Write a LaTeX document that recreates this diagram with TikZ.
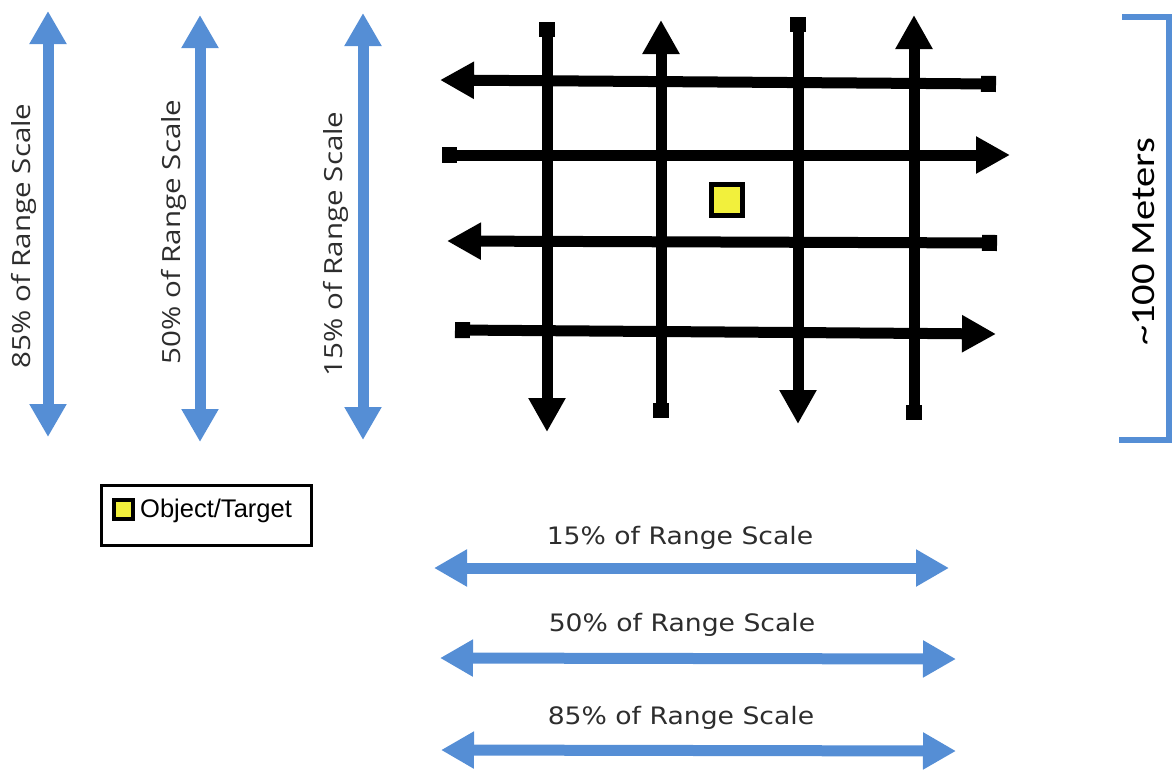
\documentclass[tikz,border=0pt]{standalone}
\usepackage{fontspec}
\setmainfont{DejaVu Sans}
\newfontfamily\vfont{Open Sans}
\newfontfamily\mfont{Carlito}
\newfontfamily\lfont{Liberation Sans}
\usetikzlibrary{arrows.meta}
\definecolor{rblue}{RGB}{85,142,213}
\definecolor{tyellow}{RGB}{242,240,60}
\definecolor{tgray}{RGB}{45,45,45}
\begin{document}
\begin{tikzpicture}[x=1pt,y=-1pt,
  bluearrow/.style={draw=rblue, line width=11pt,
    {Triangle[length=33pt,width=35pt]}-{Triangle[length=33pt,width=35pt]}},
  gline/.style={draw=black, line width=11pt},
  sqtri/.style={gline, {Square[length=15pt,width=16pt]}-{Triangle[length=34pt,width=35pt]}},
  vlabel/.style={text=tgray, font=\vfont\fontsize{25}{29}\selectfont, rotate=90, inner sep=0pt},
  hlabel/.style={text=tgray, font=\fontsize{24}{28}\selectfont, inner sep=0pt},
  target/.style={draw=black, fill=tyellow, inner sep=0pt}
]
\useasboundingbox (0,0) rectangle (1176,777);

% vertical blue range arrows
\coordinate (v1a) at (48,11);  \coordinate (v1b) at (48,437);
\coordinate (v2a) at (200,15); \coordinate (v2b) at (200,442);
\coordinate (v3a) at (363,13); \coordinate (v3b) at (363,440);
\draw[bluearrow] (v1a) -- (v1b);
\draw[bluearrow] (v2a) -- (v2b);
\draw[bluearrow] (v3a) -- (v3b);
\node[vlabel] (l85v) at (24,236) {\scalebox{1.18}[1]{85\% of Range Scale}};
\node[vlabel] (l50v) at (174,232) {\scalebox{1.18}[1]{50\% of Range Scale}};
\node[vlabel] (l15v) at (336,244) {\scalebox{1.18}[1]{15\% of Range Scale}};

% horizontal blue range arrows
\coordinate (h1a) at (434,568); \coordinate (h1b) at (949,568);
\coordinate (h2a) at (440,658); \coordinate (h2b) at (956,659);
\coordinate (h3a) at (441,750); \coordinate (h3b) at (956,751);
\draw[bluearrow] (h1a) -- (h1b);
\draw[bluearrow] (h2a) -- (h2b);
\draw[bluearrow] (h3a) -- (h3b);
\node[hlabel] (l15h) at (680,538) {\scalebox{1.11}[1]{15\% of Range Scale}};
\node[hlabel] (l50h) at (682,625) {\scalebox{1.11}[1]{50\% of Range Scale}};
\node[hlabel] (l85h) at (681,718) {\scalebox{1.11}[1]{85\% of Range Scale}};

% search grid
\coordinate (a1) at (547,22);  \coordinate (b1) at (547,432);
\coordinate (a2) at (661,418); \coordinate (b2) at (661,20);
\coordinate (a3) at (798,17);  \coordinate (b3) at (798,424);
\coordinate (a4) at (914,420); \coordinate (b4) at (914,15);
\coordinate (c1) at (996,84);  \coordinate (d1) at (440,80);
\coordinate (c2) at (442,155); \coordinate (d2) at (1010,155);
\coordinate (c3) at (997,243); \coordinate (d3) at (447,241);
\coordinate (c4) at (455,330); \coordinate (d4) at (996,334);
\draw[sqtri] (a1) -- (b1);
\draw[sqtri] (a2) -- (b2);
\draw[sqtri] (a3) -- (b3);
\draw[sqtri] (a4) -- (b4);
\draw[sqtri] (c1) -- (d1);
\draw[sqtri] (c2) -- (d2);
\draw[sqtri] (c3) -- (d3);
\draw[sqtri] (c4) -- (d4);
\node[target, line width=5pt, minimum size=31pt] (tgt) at (727,200) {};

% bracket
\coordinate (br1) at (1122,17);
\coordinate (br2) at (1169,17);
\coordinate (br3) at (1169,440);
\coordinate (br4) at (1119,440);
\draw[rblue, line width=6pt] (br1) -- (br2) -- (br3) -- (br4);
\node[text=black, font=\mfont\fontsize{34}{38}\selectfont, rotate=90, inner sep=0pt] (meters) at (1144,242) {\scalebox{1.19}[1]{\textasciitilde 100 Meters}};

% legend
\node[draw=black, line width=3.5pt, minimum width=210pt, minimum height=60pt, inner sep=0pt] (legend) at (206.5,515.5) {};
\node[target, line width=4pt, minimum size=19pt] (legsq) at (123.5,509) {};
\node[anchor=west, inner sep=0pt, text=black, font=\lfont\fontsize{25.5}{29}\selectfont] (legtext) at (140,511) {Object/Target};
\end{tikzpicture}
\end{document}
